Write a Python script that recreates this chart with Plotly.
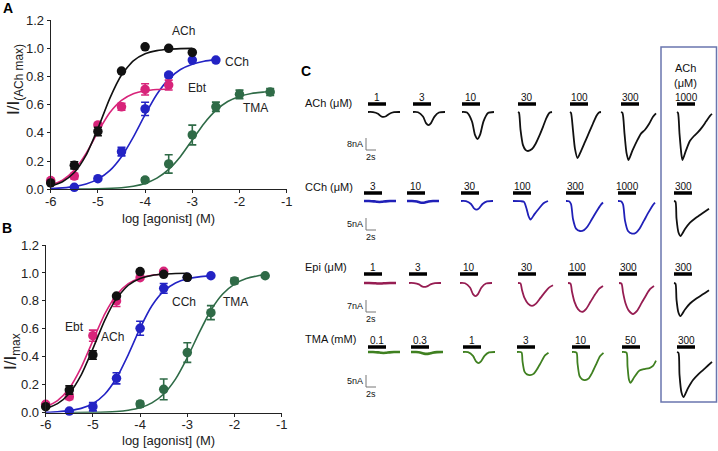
import plotly.graph_objects as go

W, H = 718, 451
FONT = "Arial, Liberation Sans, sans-serif"

# ---------------- Panel A data (log M, I/I ACh max) ----------------
A_ACh_x = [-6, -5.5, -5, -4.5, -4, -3.5, -3]
A_ACh_y = [0.045, 0.17, 0.41, 0.838, 1.01, 0.999, 0.97]
A_ACh_err = [0.0, 0.025, 0.03, 0.0, 0.0, 0.0, 0.0]
A_Ebt_x = [-6, -5.5, -5, -4.5, -4, -3.5]
A_Ebt_y = [0.062, 0.094, 0.456, 0.585, 0.708, 0.739]
A_Ebt_err = [0.0, 0.02, 0.015, 0.025, 0.04, 0.035]
A_CCh_x = [-5.5, -5, -4.5, -4, -3.5, -3, -2.5]
A_CCh_y = [0.014, 0.075, 0.267, 0.57, 0.81, 0.916, 0.916]
A_CCh_err = [0.0, 0.0, 0.03, 0.047, 0.015, 0.0, 0.0]
A_TMA_x = [-4, -3.5, -3, -2.5, -2, -1.35]
A_TMA_y = [0.066, 0.18, 0.385, 0.585, 0.673, 0.69]
A_TMA_err = [0.015, 0.065, 0.07, 0.033, 0.03, 0.025]

# fitted curves
A_ACh_fit_x = [-6, -5.75, -5.5, -5.25, -5, -4.75, -4.5, -4.25, -4, -3.75, -3.5, -3.25, -3]
A_ACh_fit_y = [0.023, 0.054, 0.119, 0.242, 0.431, 0.643, 0.810, 0.910, 0.960, 0.983, 0.993, 0.997, 0.999]
A_Ebt_fit_x = [-6, -5.75, -5.5, -5.25, -5, -4.75, -4.5, -4.25, -4, -3.75, -3.5]
A_Ebt_fit_y = [0.029, 0.064, 0.136, 0.255, 0.406, 0.542, 0.630, 0.677, 0.698, 0.707, 0.711]
A_CCh_fit_x = [-6, -5.75, -5.5, -5.25, -5, -4.75, -4.5, -4.25, -4, -3.75, -3.5, -3.25, -3, -2.75, -2.5]
A_CCh_fit_y = [0.005, 0.010, 0.019, 0.037, 0.072, 0.132, 0.231, 0.370, 0.529, 0.674, 0.781, 0.849, 0.887, 0.908, 0.919]
A_TMA_fit_x = [-5.5, -5, -4.5, -4.25, -4, -3.75, -3.5, -3.25, -3, -2.75, -2.5, -2.25, -2, -1.75, -1.5, -1.35]
A_TMA_fit_y = [0.001, 0.003, 0.011, 0.022, 0.042, 0.079, 0.141, 0.233, 0.350, 0.467, 0.559, 0.622, 0.658, 0.679, 0.689, 0.693]

# ---------------- Panel B data (log M, I/Imax) ----------------
B_ACh_x = [-6, -5.5, -5, -4.5, -4, -3.5, -3]
B_ACh_y = [0.043, 0.162, 0.413, 0.835, 1.01, 0.99, 0.969]
B_ACh_err = [0.0, 0.03, 0.03, 0.0, 0.0, 0.0, 0.0]
B_Ebt_x = [-6, -5.5, -5, -4.5, -4, -3.5]
B_Ebt_y = [0.06, 0.115, 0.551, 0.80, 0.966, 1.012]
B_Ebt_err = [0.0, 0.02, 0.04, 0.04, 0.0, 0.0]
B_CCh_x = [-5.5, -5, -4.5, -4, -3.5, -3, -2.5]
B_CCh_y = [0.012, 0.043, 0.246, 0.604, 0.89, 0.969, 0.98]
B_CCh_err = [0.0, 0.03, 0.04, 0.05, 0.035, 0.0, 0.0]
B_TMA_x = [-4, -3.5, -3, -2.5, -2, -1.35]
B_TMA_y = [0.062, 0.167, 0.43, 0.716, 0.943, 0.98]
B_TMA_err = [0.02, 0.074, 0.07, 0.05, 0.02, 0.0]

B_ACh_fit_x = [-6, -5.75, -5.5, -5.25, -5, -4.75, -4.5, -4.25, -4, -3.75, -3.5, -3.25, -3]
B_ACh_fit_y = [0.029, 0.065, 0.138, 0.269, 0.458, 0.661, 0.818, 0.912, 0.960, 0.982, 0.992, 0.996, 0.998]
B_Ebt_fit_x = [-6, -5.75, -5.5, -5.25, -5, -4.75, -4.5, -4.25, -4, -3.75, -3.5]
B_Ebt_fit_y = [0.041, 0.087, 0.175, 0.323, 0.516, 0.705, 0.842, 0.923, 0.964, 0.984, 0.993]
B_CCh_fit_x = [-6, -5.75, -5.5, -5.25, -5, -4.75, -4.5, -4.25, -4, -3.75, -3.5, -3.25, -3, -2.75, -2.5]
B_CCh_fit_y = [0.003, 0.007, 0.015, 0.031, 0.065, 0.132, 0.248, 0.416, 0.605, 0.765, 0.870, 0.928, 0.958, 0.972, 0.979]
B_TMA_fit_x = [-5.5, -5, -4.5, -4.25, -4, -3.75, -3.5, -3.25, -3, -2.75, -2.5, -2.25, -2, -1.75, -1.5, -1.35]
B_TMA_fit_y = [0.0005, 0.002, 0.009, 0.018, 0.035, 0.070, 0.134, 0.240, 0.394, 0.571, 0.733, 0.849, 0.920, 0.960, 0.980, 0.987]

X_TICKS = [-6, -5, -4, -3, -2, -1]
X_TICK_TEXT = ["-6", "-5", "-4", "-3", "-2", "-1"]
Y_TICKS = [0, 0.2, 0.4, 0.6, 0.8, 1.0, 1.2]

# ---------------- Panel C data (current traces) ----------------
C_row_labels = ["ACh (μM)", "CCh (μM)", "Epi (μM)", "TMA (mM)"]
C_conc = [
    ["1", "3", "10", "30", "100", "300", "1000"],
    ["3", "10", "30", "100", "300", "1000", "300"],
    ["1", "3", "10", "30", "100", "300", "300"],
    ["0.1", "0.3", "1", "3", "10", "50", "300"],
]
C_amp_nA = [
    [3.3, 8.7, 18.0, 26.0, 30.7, 32.0, 32.0],
    [0.4, 0.7, 3.6, 7.8, 12.5, 13.6, 14.6],
    [0.3, 2.3, 7.6, 13.4, 16.9, 18.1, 19.3],
    [0.4, 0.8, 4.6, 9.6, 11.7, 12.9, 18.8],
]
C_kind = [
    ["dip", "dip", "dip", "udrop", "vdrop", "vshoulder", "partial"],
    ["dip", "dip", "dip", "delayed", "ushape", "ushape", "partialB"],
    ["dip", "dip", "dip", "epi", "epi", "epi", "partialB"],
    ["dip", "dip", "dip", "tmaU", "tmaU", "tmaP", "partialB"],
]
C_scale_nA = [8, 5, 7, 5]
C_scale_s = 2

# normalised waveform templates: time (s) and fraction of peak inward current
TPL_t = {
    "dip":       [0, 1.0, 2.0, 2.6, 3.1, 3.6, 4.3, 5.2, 6.4],
    "udrop":     [0, 0.2, 0.5, 1.0, 1.5, 2.0, 2.8, 3.5, 4.3, 5.0, 5.7, 6.3, 6.8],
    "vdrop":     [0, 0.2, 0.6, 1.0, 1.5, 2.2, 3.0, 3.8, 4.6, 5.3, 5.8, 6.2],
    "vshoulder": [0, 0.3, 0.7, 1.1, 1.5, 2.3, 3.2, 4.0, 4.8, 5.6, 6.4, 7.0],
    "partial":   [0, 0.2, 0.5, 0.9, 1.1, 1.8, 2.6, 3.4, 4.2, 5.0, 5.8, 6.6, 7.0],
    "partialB":  [0, 0.3, 0.5, 0.9, 1.3, 2.2, 3.2, 4.2, 5.2, 6.2, 7.0],
    "delayed":   [0, 1.5, 2.2, 2.7, 3.1, 3.5, 4.3, 5.2, 6.1, 7.0],
    "ushape":    [0, 0.6, 1.0, 1.4, 2.0, 2.8, 3.6, 4.3, 5.2, 6.1, 7.0, 7.4],
    "epi":       [0, 0.5, 0.8, 1.3, 2.0, 2.8, 3.6, 4.5, 5.4, 6.2, 7.0],
    "tmaU":      [0, 0.9, 1.1, 1.5, 2.0, 2.6, 3.3, 4.0, 4.8, 5.6, 6.3],
    "tmaP":      [0, 0.9, 1.1, 1.4, 1.7, 2.5, 3.5, 4.5, 5.5, 6.2, 6.8],
}
TPL_f = {
    "dip":       [0, 0.02, 0.35, 0.85, 1.0, 0.85, 0.35, 0.04, 0],
    "udrop":     [0, 0.02, 0.45, 0.85, 0.97, 1.0, 0.95, 0.82, 0.6, 0.38, 0.15, 0.02, 0],
    "vdrop":     [0, 0.02, 0.4, 0.8, 1.0, 0.85, 0.65, 0.45, 0.25, 0.08, 0.01, 0],
    "vshoulder": [0, 0.02, 0.45, 0.85, 1.0, 0.8, 0.6, 0.45, 0.37, 0.25, 0.1, 0.03],
    "partial":   [0, 0.02, 0.45, 0.9, 1.0, 0.8, 0.6, 0.5, 0.42, 0.32, 0.2, 0.08, 0.04],
    "partialB":  [0, 0.02, 0.5, 0.9, 1.0, 0.8, 0.62, 0.5, 0.4, 0.3, 0.22],
    "delayed":   [0, 0.01, 0.05, 0.4, 0.8, 1.0, 0.7, 0.4, 0.12, 0],
    "ushape":    [0, 0.01, 0.1, 0.6, 0.92, 1.0, 0.97, 0.85, 0.6, 0.35, 0.12, 0.05],
    "epi":       [0, 0.02, 0.3, 0.65, 0.9, 1.0, 0.9, 0.65, 0.4, 0.2, 0.1],
    "tmaU":      [0, 0.02, 0.4, 0.85, 0.97, 1.0, 0.95, 0.75, 0.45, 0.15, 0.03],
    "tmaP":      [0, 0.02, 0.45, 0.9, 1.0, 0.8, 0.6, 0.55, 0.52, 0.45, 0.28],
}

# ---------------- styles / layout positions ----------------
COL = {"ACh": "#111111", "Ebt": "#d8247a", "CCh": "#2323c4", "TMA": "#2f6b47"}
ROW_COLORS = ["#111111", "#2020b8", "#961d52", "#3f8020"]


def px(x):
    return x / W


def py(y):
    return 1 - y / H


fig = go.Figure()


def add_dose(xa, ya, name, x, y, err, fx, fy):
    c = COL[name]
    fig.add_trace(go.Scatter(x=fx, y=fy, mode="lines", xaxis=xa, yaxis=ya,
                             line=dict(color=c, width=1.6, shape="spline", smoothing=0.6),
                             hoverinfo="skip", showlegend=False, cliponaxis=False))
    fig.add_trace(go.Scatter(x=x, y=y, mode="markers", xaxis=xa, yaxis=ya, name=name,
                             marker=dict(color=c, size=9.5, line=dict(width=0)),
                             error_y=dict(type="data", array=err, color=c, thickness=1.6, width=4),
                             showlegend=False, cliponaxis=False))


for nm, d in [("TMA", (A_TMA_x, A_TMA_y, A_TMA_err, A_TMA_fit_x, A_TMA_fit_y)),
              ("CCh", (A_CCh_x, A_CCh_y, A_CCh_err, A_CCh_fit_x, A_CCh_fit_y)),
              ("Ebt", (A_Ebt_x, A_Ebt_y, A_Ebt_err, A_Ebt_fit_x, A_Ebt_fit_y)),
              ("ACh", (A_ACh_x, A_ACh_y, A_ACh_err, A_ACh_fit_x, A_ACh_fit_y))]:
    add_dose("x", "y", nm, *d)

for nm, d in [("TMA", (B_TMA_x, B_TMA_y, B_TMA_err, B_TMA_fit_x, B_TMA_fit_y)),
              ("CCh", (B_CCh_x, B_CCh_y, B_CCh_err, B_CCh_fit_x, B_CCh_fit_y)),
              ("Ebt", (B_Ebt_x, B_Ebt_y, B_Ebt_err, B_Ebt_fit_x, B_Ebt_fit_y)),
              ("ACh", (B_ACh_x, B_ACh_y, B_ACh_err, B_ACh_fit_x, B_ACh_fit_y))]:
    add_dose("x2", "y2", nm, *d)

# ---------------- Panel C: traces ----------------
ROW_COL_X = [[377, 422, 471, 527, 579, 630, 686],
             [373, 416, 470, 522, 575, 627, 683],
             [373, 418, 469, 527, 577, 628, 683],
             [377, 420, 472, 526, 581, 631, 686]]
ROW_BAR_Y = [104, 193, 274, 347]
ROW_BASE_Y = [112, 201, 283, 352]
ROW_LABEL_Y = [103, 187, 267, 339]
SCALE_TOP = [138, 218, 300, 375]
SCALE_X = 366
PX_PER_S = 5.0
SCALE_PX = 12.0
BAR_HALF = 9

shapes = []
annotations = []


def ann(**kw):
    kw.setdefault("showarrow", False)
    kw.setdefault("xanchor", "center")
    kw.setdefault("yanchor", "middle")
    annotations.append(kw)


for r in range(4):
    px_per_nA = SCALE_PX / C_scale_nA[r]
    for c in range(7):
        cx = ROW_COL_X[r][c]
        color = "#111111" if c == 6 else ROW_COLORS[r]
        kind = C_kind[r][c]
        amp = C_amp_nA[r][c]
        xs = [cx - BAR_HALF + t * PX_PER_S for t in TPL_t[kind]]
        ys = [ROW_BASE_Y[r] + amp * px_per_nA * f for f in TPL_f[kind]]
        lw = 2.6 if amp < 1 else 1.8
        fig.add_trace(go.Scatter(x=xs, y=ys, mode="lines", xaxis="x3", yaxis="y3",
                                 line=dict(color=color, width=lw, shape="spline", smoothing=0.7),
                                 hoverinfo="skip", showlegend=False, cliponaxis=False))
        shapes.append(dict(type="line", xref="x3", yref="y3", x0=cx - BAR_HALF, x1=cx + BAR_HALF,
                           y0=ROW_BAR_Y[r], y1=ROW_BAR_Y[r], line=dict(color="#000000", width=3.5)))
        ann(x=cx, y=ROW_BAR_Y[r] - 7, xref="x3", yref="y3", text=C_conc[r][c],
            font=dict(size=10, color="#111", family=FONT))
    ann(x=303, y=ROW_LABEL_Y[r], xref="x3", yref="y3", text=C_row_labels[r], xanchor="left",
        font=dict(size=11, color="#111", family=FONT))
    # scale bars
    st = SCALE_TOP[r]
    shapes.append(dict(type="line", xref="x3", yref="y3", x0=SCALE_X, x1=SCALE_X, y0=st, y1=st + SCALE_PX,
                       line=dict(color="#777", width=1)))
    shapes.append(dict(type="line", xref="x3", yref="y3", x0=SCALE_X, x1=SCALE_X + C_scale_s * PX_PER_S,
                       y0=st + SCALE_PX, y1=st + SCALE_PX, line=dict(color="#777", width=1)))
    ann(x=SCALE_X - 1, y=st + 6, xref="x3", yref="y3", text=f"{C_scale_nA[r]}nA", xanchor="right",
        font=dict(size=9, color="#111", family=FONT))
    ann(x=SCALE_X + 5, y=st + 19, xref="x3", yref="y3", text=f"{C_scale_s}s",
        font=dict(size=9, color="#111", family=FONT))

# box around ACh-reference column
shapes.append(dict(type="rect", xref="x3", yref="y3", x0=661, x1=716.5, y0=47, y1=402,
                   line=dict(color="#6a76ae", width=1.5)))
ann(x=685, y=68, xref="x3", yref="y3", text="ACh", font=dict(size=11, color="#111", family=FONT))
ann(x=685, y=83, xref="x3", yref="y3", text="(μM)", font=dict(size=11, color="#111", family=FONT))

# ---------------- labels for panels A/B ----------------
lab_font = dict(size=12, color="#222", family=FONT)
for txt, x, y in [("ACh", 183, 31), ("CCh", 237, 62), ("Ebt", 197, 88), ("TMA", 255, 108),
                  ("Ebt", 74, 327), ("ACh", 112, 337), ("CCh", 184, 302), ("TMA", 235, 302)]:
    ann(x=px(x), y=py(y), xref="paper", yref="paper", text=txt, font=lab_font)

for txt, x, y in [("A", 8, 8), ("B", 7, 228), ("C", 306, 71)]:
    ann(x=px(x), y=py(y), xref="paper", yref="paper", text=f"<b>{txt}</b>",
        font=dict(size=14, color="#000", family=FONT))

for y in [218, 440]:
    ann(x=px(168), y=py(y), xref="paper", yref="paper", text="log [agonist] (M)",
        font=dict(size=13, color="#222", family=FONT))
ann(x=px(15), y=py(80), xref="paper", yref="paper", text="I/I<sub>(ACh max)</sub>", textangle=-90,
    font=dict(size=17, color="#222", family=FONT))
ann(x=px(12), y=py(352), xref="paper", yref="paper", text="I/I<sub>max</sub>", textangle=-90,
    font=dict(size=17, color="#222", family=FONT))

axis_common = dict(showgrid=False, zeroline=False, showline=True, linecolor="#222", linewidth=1,
                   ticks="outside", ticklen=3, tickcolor="#222", tickwidth=1, automargin=False,
                   tickfont=dict(size=13, color="#222", family=FONT))

fig.update_layout(
    width=W, height=H, margin=dict(l=0, r=0, t=0, b=0, pad=0, autoexpand=False),
    paper_bgcolor="white", plot_bgcolor="rgba(0,0,0,0)",
    showlegend=False,
    xaxis=dict(domain=[px(50.7), px(286.7)], range=[-6, -1], anchor="y", ticklabelstandoff=-3,
               tickvals=X_TICKS, ticktext=X_TICK_TEXT, **axis_common),
    yaxis=dict(domain=[py(189.3), py(20)], range=[0, 1.2], anchor="x",
               tickvals=Y_TICKS, tickformat=".1f", **axis_common),
    xaxis2=dict(domain=[px(45.7), px(281.7)], range=[-6, -1], anchor="y2", ticklabelstandoff=-3,
                tickvals=X_TICKS, ticktext=X_TICK_TEXT, **axis_common),
    yaxis2=dict(domain=[py(412.7), py(245)], range=[0, 1.2], anchor="x2",
                tickvals=Y_TICKS, tickformat=".1f", **axis_common),
    xaxis3=dict(domain=[px(290), 1.0], range=[290, 718], anchor="y3", visible=False),
    yaxis3=dict(domain=[0.0, 1.0], range=[451, 0], anchor="x3", visible=False),
    shapes=shapes,
    annotations=annotations,
    font=dict(family=FONT),
)

fig.write_html("out.html", config={"displayModeBar": False},
               post_script="document.body.style.margin='0px';document.body.style.padding='0px';")
